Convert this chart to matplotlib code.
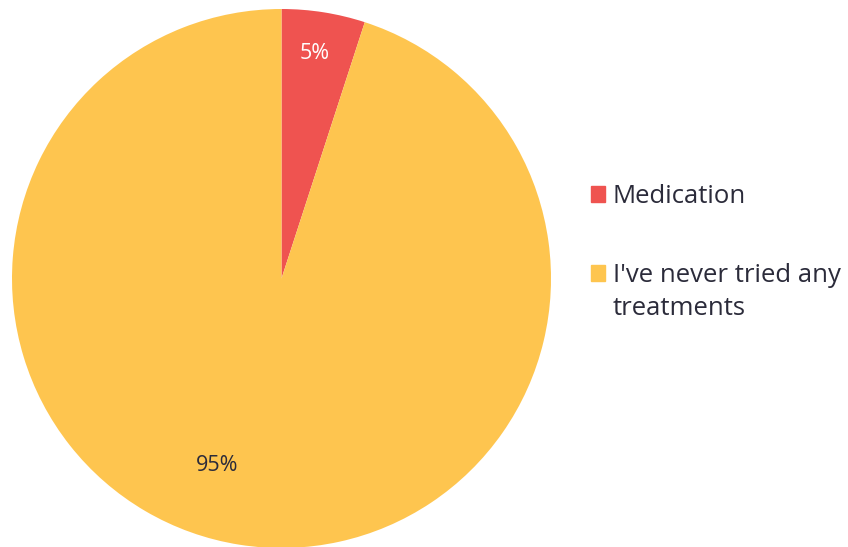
import matplotlib
matplotlib.use("Agg")
import matplotlib.pyplot as plt
import numpy as np

labels = ["Medication", "I've never tried any\ntreatments"]
values = [5, 95]
colors = ["#EF5350", "#FEC54F"]
pct_colors = ["white", "#2B2B3A"]
text_color = "#2B2B3A"

plt.rcParams["font.family"] = ["Open Sans", "DejaVu Sans"]

fig = plt.figure(figsize=(8.48, 5.47), dpi=100)
# pie box: 539 px square, left edge at x=12, top at y=9
ax = fig.add_axes([12 / 848, (547 - 548) / 547, 539 / 848, 539 / 547])
wedges, _ = ax.pie(values, colors=colors, startangle=90, counterclock=False,
                   radius=1, wedgeprops=dict(linewidth=0))
ax.set_xlim(-1, 1)
ax.set_ylim(-1, 1)
ax.set_aspect("equal")
ax.axis("off")

# percentage labels
dist = [0.845, 0.735]
shift = [0.5, -10]
for w, v, d, s, c in zip(wedges, values, dist, shift, pct_colors):
    ang = np.deg2rad((w.theta1 + w.theta2) / 2 + s)
    ax.text(d * np.cos(ang), d * np.sin(ang), "%d%%" % v, ha="center", va="center",
            fontsize=15.5, color=c)

# legend: square sits next to the first line of each label
first_lines = [l.split("\n")[0] for l in labels]
handles = [plt.Rectangle((0, 0), 1, 1, color=c) for c in colors]
leg = fig.legend(handles, first_lines, loc="upper left", bbox_to_anchor=(568 / 848, 1 - 161 / 547),
                 frameon=False, fontsize=18.5, handlelength=0.55, handleheight=0.55,
                 handletextpad=0.3, labelspacing=2.1, labelcolor=text_color)

fig.canvas.draw()
r = fig.canvas.get_renderer()
for t, l in zip(leg.get_texts(), labels):
    rest = l.split("\n")[1:]
    if rest:
        bb = t.get_window_extent(r)
        fig.text(bb.x0 / fig.bbox.width, (bb.y0 - 33) / fig.bbox.height, "\n".join(rest),
                 ha="left", va="bottom", fontsize=18.5, color=text_color)

fig.savefig("out.png", dpi=100)
